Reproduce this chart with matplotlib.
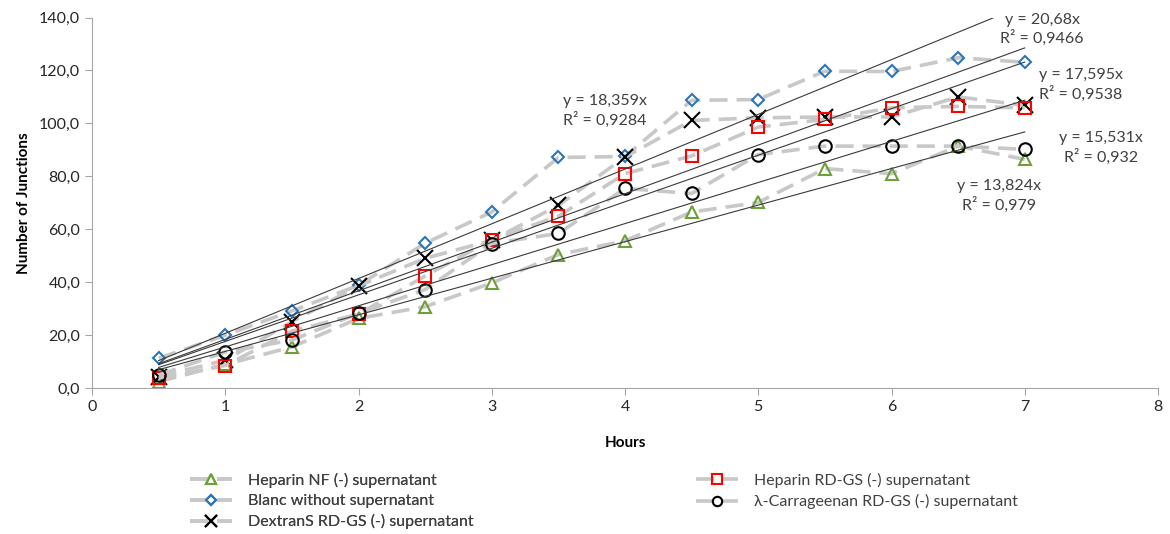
import matplotlib.pyplot as plt
from matplotlib.ticker import FuncFormatter

plt.rcParams['font.family'] = ['Lato', 'DejaVu Sans']

# time points (hours)
hours = [0.5, 1, 1.5, 2, 2.5, 3, 3.5, 4, 4.5, 5, 5.5, 6, 6.5, 7]

# number of junctions per condition
heparin_nf = [2.4, 8.9, 15.5, 26.3, 30.7, 39.7, 50.4, 55.6, 66.5, 70.1, 82.9, 81.0, 91.4, 86.4]
blanc = [11.2, 20.0, 29.1, 38.8, 54.7, 66.5, 87.1, 87.5, 108.7, 109.0, 119.7, 119.6, 124.8, 123.1]
dextran = [4.3, 10.5, 25.0, 38.6, 49.0, 55.8, 69.0, 87.3, 101.1, 102.1, 102.4, 102.4, 110.0, 106.8]
heparin_rdgs = [3.7, 8.5, 21.5, 27.9, 42.3, 56.1, 64.9, 81.0, 87.7, 98.6, 101.5, 105.9, 106.4, 105.9]
carrageenan = [4.9, 13.6, 18.1, 28.2, 37.2, 54.6, 58.4, 75.4, 73.5, 88.2, 91.4, 91.4, 91.4, 90.2]

labels = ['Heparin NF (-) supernatant', 'Blanc without supernatant',
          'DextranS RD-GS (-) supernatant', 'Heparin RD-GS (-) supernatant',
          'λ-Carrageenan RD-GS (-) supernatant']

# linear trendlines through the origin (values shown on chart)
slopes = [13.824, 20.68, 18.359, 17.595, 15.531]
r2 = ['0,979', '0,9466', '0,9284', '0,9538', '0,932']

# where each trendline label sits (data coords)
label_pos = [(6.81, 72.5), (7.13, 135.5), (3.85, 104.6), (7.42, 114.6), (7.57, 90.8)]

series = [heparin_nf, blanc, dextran, heparin_rdgs, carrageenan]
markers = ['^', 'D', 'x', 's', 'o']
colors = ['#6f9f3a', '#2e75b6', 'black', '#ff0000', 'black']
msizes = [9, 6.5, 11, 9, 9]

fig = plt.figure(figsize=(11.7, 5.34), dpi=100)
ax = fig.add_axes([92 / 1170, 1 - 388 / 534, (1158 - 92) / 1170, (388 - 17.5) / 534])

handles = []
for ys, m, c, ms, lab in zip(series, markers, colors, msizes, labels):
    h, = ax.plot(hours, ys, color='#c8c8c8', lw=2.6, dashes=(5, 2.5),
                 marker=m, ms=ms, mfc='none', mec=c, mew=1.5, label=lab, zorder=2)
    handles.append(h)

for k, lab_xy, rr in zip(slopes, label_pos, r2):
    ax.plot([hours[0], hours[-1]], [k * hours[0], k * hours[-1]],
            color='#3a3a3a', lw=0.8, zorder=3)
    txt = 'y = ' + str(k).replace('.', ',') + 'x\nR² = ' + rr
    ax.text(lab_xy[0], lab_xy[1], txt, ha='center', va='center', fontsize=11.5,
            color='#404040', linespacing=1.25, clip_on=False)

ax.set_xlim(0, 8)
ax.set_ylim(0, 140)
ax.set_xticks(range(0, 9))
ax.set_yticks(range(0, 141, 20))
ax.yaxis.set_major_formatter(FuncFormatter(lambda v, p: f'{v:.1f}'.replace('.', ',')))

for s in ['top', 'right']:
    ax.spines[s].set_visible(False)
for s in ['left', 'bottom']:
    ax.spines[s].set_color('#a6a6a6')
ax.tick_params(axis='both', colors='#a6a6a6', labelcolor='#262626', labelsize=11.5, length=5)

ax.set_xlabel('Hours', fontsize=11, fontweight='bold', labelpad=16)
ax.set_ylabel('Number of Junctions', fontsize=11, fontweight='bold', labelpad=6)

leg_kw = dict(loc='upper left', frameon=False, fontsize=11.5, handlelength=2.6,
              handletextpad=1.0, labelspacing=0.38, borderpad=0, borderaxespad=0,
              markerscale=0.75, labelcolor='#404040')
leg1 = fig.legend(handles=handles[:3], bbox_to_anchor=(190 / 1170, 1 - 473 / 534), **leg_kw)
fig.legend(handles=handles[3:], bbox_to_anchor=(696 / 1170, 1 - 473 / 534), **leg_kw)
fig.add_artist(leg1)

fig.savefig('out.png', dpi=100)
